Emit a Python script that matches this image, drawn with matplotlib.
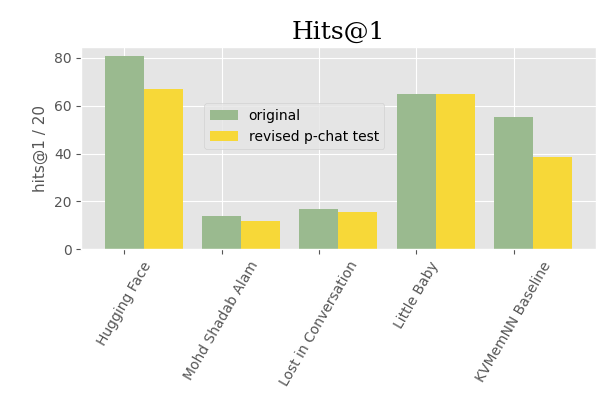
import matplotlib
matplotlib.use('Agg')
import matplotlib.pyplot as plt
import numpy as np

plt.style.use('ggplot')

green = '#9aba8f'
yellow = '#f7d838'

teams = ['Hugging Face', 'Mohd Shadab Alam', 'Lost in Conversation',
         'Little Baby', 'KVMemNN Baseline']
original = [80.8, 13.9, 16.8, 64.9, 55.2]
revised = [67.0, 11.8, 15.5, 65.0, 38.6]

fig, ax = plt.subplots(figsize=(6.06, 3.93), dpi=100)
xs = np.arange(len(teams))
width = 0.4
ax.bar(xs, original, width, color=green, label='original')
ax.bar(xs + width, revised, width, color=yellow, label='revised p-chat test')

ax.set_xticks(xs)
ax.set_xticklabels(teams, rotation=60)
ax.set_ylabel('hits@1 / 20', fontsize=11)
ax.set_title('Hits@1', family='DejaVu Serif', fontsize=18)
ax.set_ylim(0, 84.5)
ax.legend(loc='upper left', bbox_to_anchor=(0.239, 0.723), borderaxespad=0.,
          fontsize=10)

plt.subplots_adjust(left=0.134, right=0.983, top=0.880, bottom=0.366)
plt.savefig('out.png', dpi=100)
